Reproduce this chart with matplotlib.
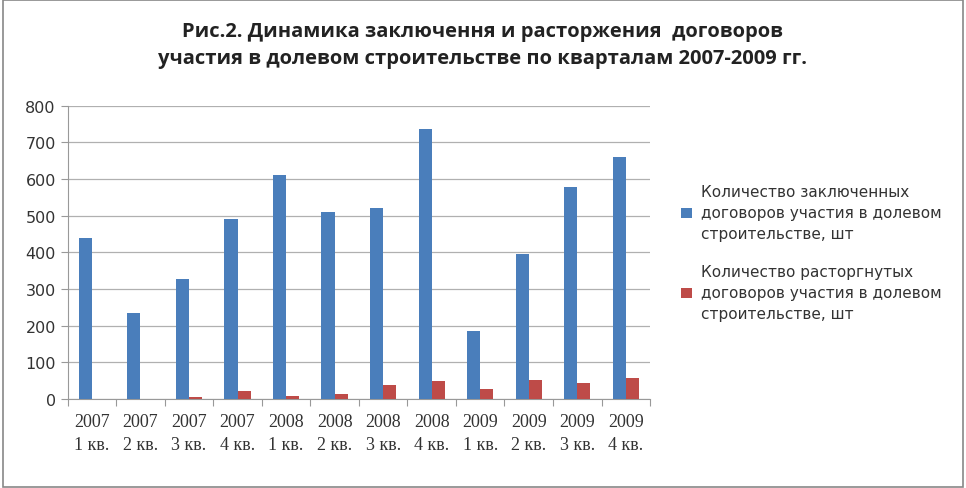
import matplotlib.pyplot as plt
import numpy as np

categories = ["2007\n1 кв.", "2007\n2 кв.", "2007\n3 кв.", "2007\n4 кв.", "2008\n1 кв.", "2008\n2 кв.",
              "2008\n3 кв.", "2008\n4 кв.", "2009\n1 кв.", "2009\n2 кв.", "2009\n3 кв.", "2009\n4 кв."]
concluded = [440, 235, 328, 490, 612, 510, 522, 735, 185, 395, 578, 660]
terminated = [0, 0, 5, 22, 8, 13, 38, 48, 28, 52, 44, 56]
series_names = ["Количество заключенных\nдоговоров участия в долевом\nстроительстве, шт",
                "Количество расторгнутых\nдоговоров участия в долевом\nстроительстве, шт"]

fig = plt.figure(figsize=(9.66, 4.89), dpi=100)
fig.patch.set_facecolor("white")
ax = fig.add_axes([0.070, 0.182, 0.603, 0.600])
x = np.arange(len(categories))
w = 0.27
ax.bar(x - w/2, concluded, w, color="#4a7ebb", label=series_names[0], zorder=3)
ax.bar(x + w/2, terminated, w, color="#be4b48", label=series_names[1], zorder=3)
ax.set_xlim(-0.5, len(categories) - 0.5)
ax.set_ylim(0, 800)
ax.set_yticks(range(0, 801, 100))
ax.yaxis.grid(True, color="#b0b0b0", linewidth=0.9, zorder=0)
ax.set_xticks(np.arange(-0.5, len(categories), 1), minor=False)
ax.set_xticklabels([])
ax.set_xticks(x, minor=True)
ax.set_xticklabels(categories, minor=True, fontsize=13, family="Liberation Serif", color="#333333", linespacing=1.45)
ax.tick_params(axis="x", which="minor", length=0, pad=10)
ax.tick_params(axis="x", which="major", length=5, color="#999999")
ax.tick_params(axis="y", labelsize=11.5, labelcolor="#333333", length=5, color="#999999")
for s in ["top", "right"]:
    ax.spines[s].set_visible(False)
for s in ["left", "bottom"]:
    ax.spines[s].set_color("#999999")
fig.text(0.5, 0.955, "Рис.2. Динамика заключення и расторжения  договоров\nучастия в долевом строительстве по кварталам 2007-2009 гг.",
         ha="center", va="top", fontsize=14.5, fontweight="bold", color="#222222", linespacing=1.45,
         family="Open Sans")
ax.legend(loc="center left", bbox_to_anchor=(1.03, 0.5), frameon=False, fontsize=11,
          labelspacing=1.5, handlelength=0.7, handleheight=0.7, handletextpad=0.6, labelcolor="#333333")
for t in ax.get_legend().get_texts():
    t.set_linespacing(1.5)
fig.add_artist(plt.Rectangle((0.003, 0.003), 0.994, 0.994, transform=fig.transFigure,
                             fill=False, edgecolor="#888888", linewidth=1.2))
fig.savefig("out.png", dpi=100)
